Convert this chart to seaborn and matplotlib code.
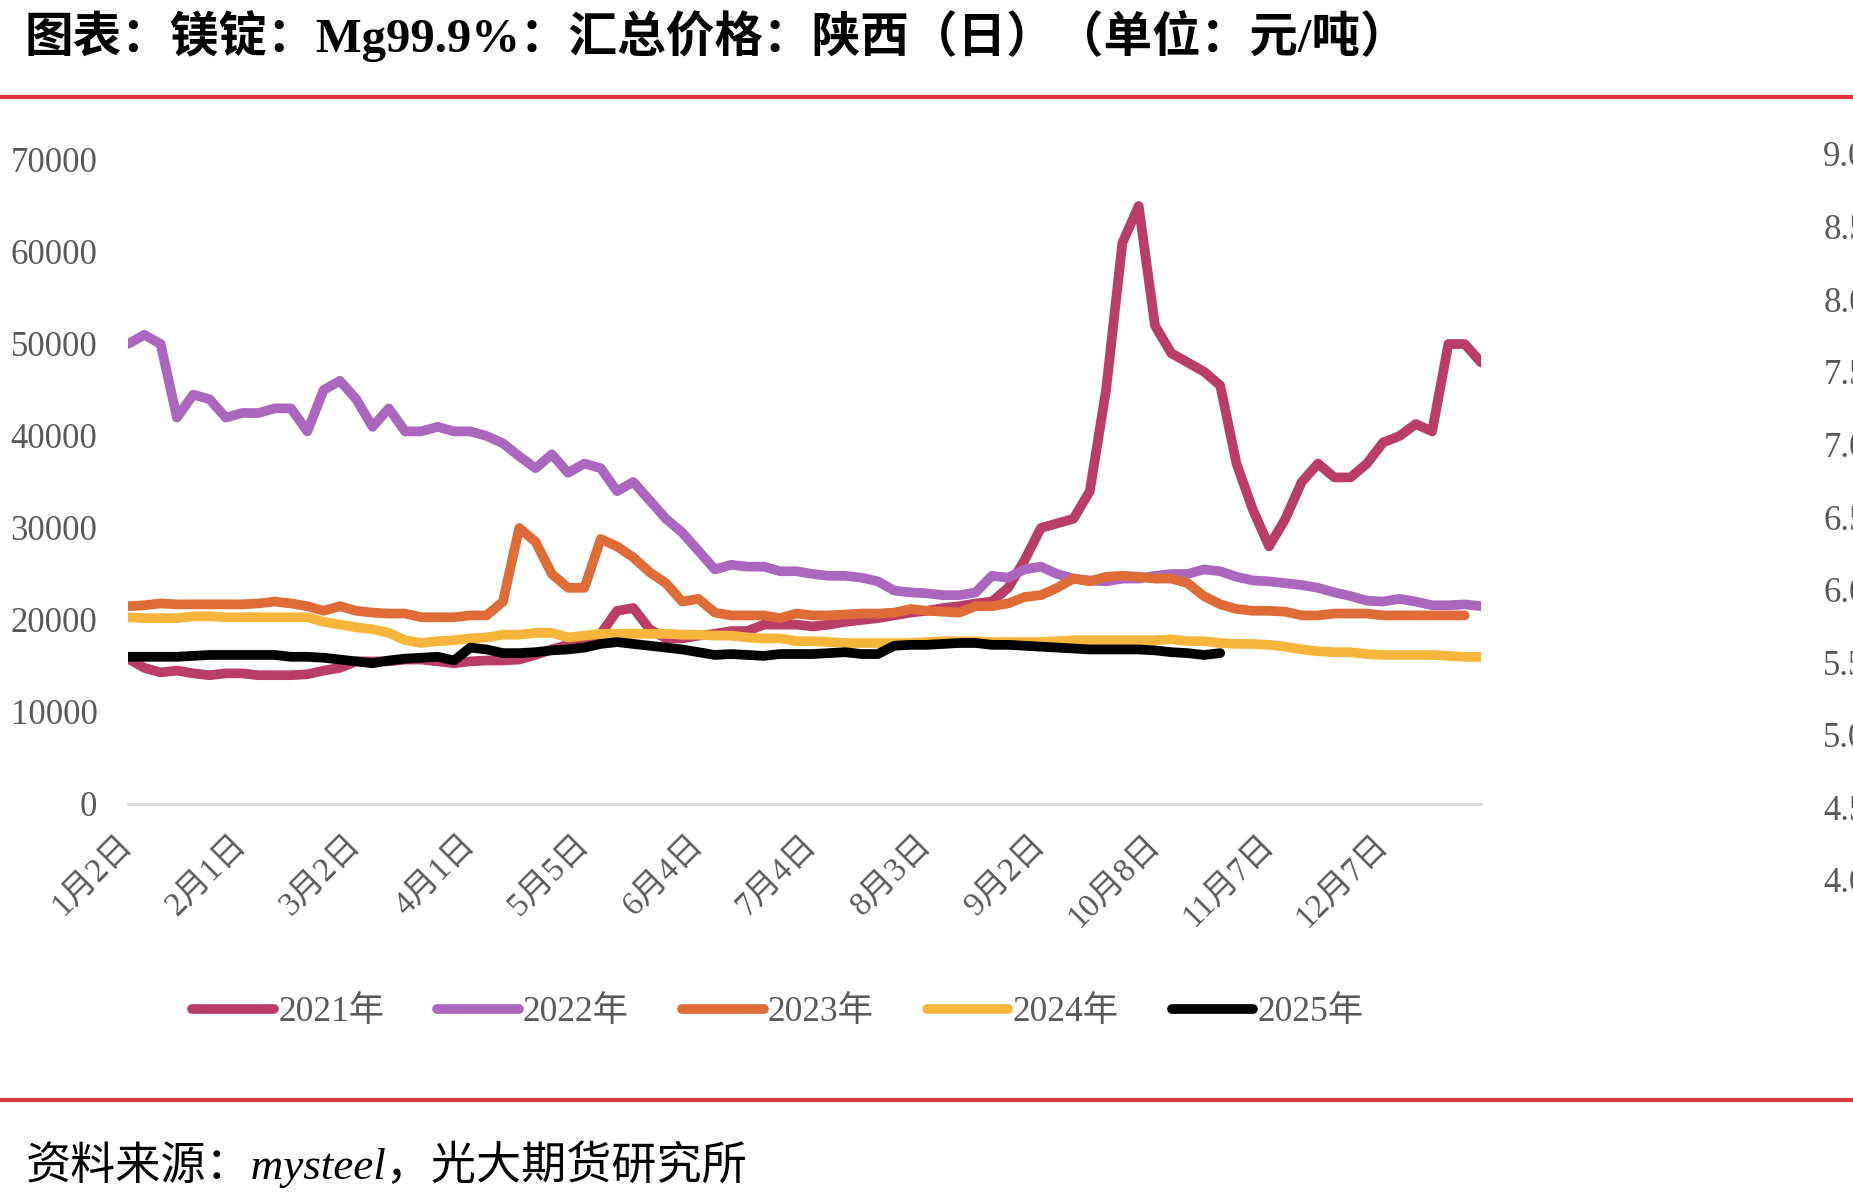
import numpy as np
import pandas as pd
import matplotlib
matplotlib.use("Agg")
import matplotlib.pyplot as plt
import seaborn as sns

# one sample every 3 trading days, a date label every 7 samples
years = ["2021年", "2022年", "2023年", "2024年", "2025年"]
colors = ["#BA3D68", "#AB67BD", "#DF6C36", "#F8B53B", "#000000"]
tick_labels = ["1月2日", "2月1日", "3月2日", "4月1日", "5月5日", "6月4日",
               "7月4日", "8月3日", "9月2日", "10月8日", "11月7日", "12月7日"]
tick_step = 7
right_ticks = [9.0, 8.5, 8.0, 7.5, 7.0, 6.5, 6.0, 5.5, 5.0, 4.5, 4.0]

p2021 = [15800, 14800, 14300, 14500, 14200, 14000, 14200, 14200, 14000, 14000,
         14000, 14100, 14500, 14800, 15500, 15500, 15500, 15700, 15700, 15500,
         15300, 15500, 15600, 15600, 15700, 16200, 16800, 17300, 17500, 18500,
         21000, 21300, 19000, 18000, 18000, 18300, 18500, 18800, 18800, 19500,
         19500, 19500, 19300, 19500, 19800, 20000, 20200, 20500, 20800, 21000,
         21300, 21500, 21800, 22000, 23500, 26500, 30000, 30500, 31000, 34000,
         45000, 61000, 65000, 52000, 49000, 48000, 47000, 45500, 37000, 32000,
         28000, 31000, 35000, 37000, 35500, 35500, 37000, 39300, 40000, 41300,
         40500, 50000, 50000, 48000]
p2022 = [50000, 51000, 50000, 42000, 44500, 44000, 42000, 42500, 42500, 43000,
         43000, 40500, 45000, 46000, 44000, 41000, 43000, 40500, 40500, 41000,
         40500, 40500, 40000, 39200, 37800, 36500, 38000, 36000, 37000, 36500,
         34000, 35000, 33000, 31000, 29500, 27500, 25500, 26000, 25800, 25800,
         25300, 25300, 25000, 24800, 24800, 24600, 24200, 23200, 23000, 22900,
         22700, 22700, 23000, 24800, 24600, 25500, 25800, 25000, 24500, 24300,
         24200, 24500, 24500, 24800, 25000, 25000, 25500, 25300, 24700, 24300,
         24200, 24000, 23800, 23500, 23000, 22600, 22100, 22000, 22300, 22000,
         21600, 21600, 21700, 21500]
p2023 = [21500, 21600, 21800, 21700, 21700, 21700, 21700, 21700, 21800, 22000,
         21800, 21500, 21000, 21500, 21000, 20800, 20700, 20700, 20300, 20300,
         20300, 20500, 20500, 22000, 30000, 28500, 25000, 23500, 23500, 28800,
         28000, 26800, 25200, 24000, 22000, 22300, 20800, 20500, 20500, 20500,
         20200, 20700, 20500, 20500, 20600, 20700, 20700, 20800, 21200, 21000,
         20900, 20800, 21500, 21500, 21800, 22500, 22700, 23500, 24500, 24200,
         24700, 24800, 24700, 24500, 24500, 24000, 22600, 21700, 21200, 21000,
         21000, 20900, 20500, 20500, 20700, 20700, 20700, 20500, 20500, 20500,
         20500, 20500, 20500]
p2024 = [20300, 20200, 20200, 20200, 20400, 20400, 20300, 20300, 20300, 20300,
         20300, 20300, 19800, 19500, 19200, 19000, 18600, 17800, 17500, 17700,
         17800, 18000, 18100, 18400, 18400, 18600, 18600, 18100, 18300, 18500,
         18500, 18500, 18500, 18500, 18400, 18400, 18300, 18300, 18100, 18000,
         18000, 17700, 17700, 17600, 17500, 17500, 17500, 17500, 17500, 17600,
         17700, 17700, 17700, 17600, 17600, 17600, 17600, 17700, 17800, 17800,
         17800, 17800, 17800, 17800, 17900, 17700, 17700, 17500, 17400, 17400,
         17300, 17100, 16800, 16600, 16500, 16500, 16300, 16200, 16200, 16200,
         16200, 16100, 16000, 16000]
p2025 = [16000, 16000, 16000, 16000, 16100, 16200, 16200, 16200, 16200, 16200,
         16000, 16000, 15900, 15700, 15500, 15300, 15600, 15800, 15900, 16000,
         15600, 17000, 16800, 16400, 16400, 16500, 16700, 16800, 17000, 17400,
         17600, 17400, 17200, 17000, 16800, 16500, 16200, 16300, 16200, 16100,
         16300, 16300, 16300, 16400, 16500, 16300, 16300, 17200, 17300, 17300,
         17400, 17500, 17500, 17300, 17300, 17200, 17100, 17000, 16900, 16800,
         16800, 16800, 16800, 16700, 16500, 16400, 16200, 16400]

series = [p2021, p2022, p2023, p2024, p2025]
rows = []
for yr, vals in zip(years, series):
    for i, v in enumerate(vals):
        rows.append({"idx": i, "price": v, "year": yr})
df = pd.DataFrame(rows)

sns.set_theme(style="white")
plt.rcParams["font.family"] = ["Liberation Serif", "Noto Sans CJK SC", "DejaVu Sans"]
gray = "#595959"

W, H = 1853, 1200
fig = plt.figure(figsize=(W / 100, H / 100), dpi=100)
ax = fig.add_axes([128 / W, 1 - 804 / H, (1481 - 128) / W, (804 - 160) / H])

sns.lineplot(data=df, x="idx", y="price", hue="year", hue_order=years,
             palette=dict(zip(years, colors)), linewidth=7, estimator=None,
             sort=False, ax=ax, legend=True)
for ln in ax.get_lines():
    ln.set_solid_capstyle("round")
    ln.set_solid_joinstyle("round")

n_max = max(len(s) for s in series) - 1
ax.set_xlim(0, n_max)
ax.set_ylim(0, 70000)
ax.set_yticks(np.arange(0, 70001, 10000))
ax.set_yticklabels([str(v) for v in range(0, 70001, 10000)])
ax.set_xticks(range(0, tick_step * len(tick_labels), tick_step))
ax.set_xticklabels(tick_labels, rotation=45, ha="right", va="center",
                   rotation_mode="anchor")
ax.tick_params(axis="y", length=0, pad=22, labelsize=25, labelcolor=gray)
ax.tick_params(axis="x", length=0, pad=26, labelsize=24, labelcolor=gray)
ax.set_xlabel("")
ax.set_ylabel("")
for s in ["top", "right", "left"]:
    ax.spines[s].set_visible(False)
ax.spines["bottom"].set_color("#d9d9d9")
ax.spines["bottom"].set_linewidth(2)

# secondary scale on the right, clipped by the figure edge as in the source
axr = fig.add_axes([128 / W, 1 - 880 / H, (1815 - 128) / W, (880 - 154) / H])
axr.patch.set_visible(False)
axr.set_ylim(4.0, 9.0)
axr.set_yticks(right_ticks)
axr.set_yticklabels([f"{v:.1f}" for v in right_ticks])
axr.yaxis.tick_right()
axr.set_xticks([])
axr.tick_params(axis="y", length=0, pad=6, labelsize=25, labelcolor=gray)
for s in axr.spines.values():
    s.set_visible(False)

handles, labels = ax.get_legend_handles_labels()
ax.get_legend().remove()
for h in handles:
    h.set_linewidth(7)
    h.set_solid_capstyle("round")
fig.legend(handles, labels, loc="center", bbox_to_anchor=(778 / W, 1 - 1013 / H),
           ncol=5, frameon=False, fontsize=25.5, handlelength=2.3,
           handletextpad=0.12, columnspacing=1.5, labelcolor=gray)

red = "#D9363E"
fig.add_artist(plt.Line2D([0, 1], [1 - 97 / H, 1 - 97 / H], color=red, lw=3))
fig.add_artist(plt.Line2D([0, 1], [1 - 1100 / H, 1 - 1100 / H], color=red, lw=3))

fig.text(24 / W, 1 - 36 / H, "图表：镁锭：Mg99.9%：汇总价格：陕西（日）（单位：元/吨）",
         fontsize=35, fontweight="bold", va="center", ha="left", color="black")
fig.text(26 / W, 1 - 1164 / H, "资料来源：mysteel，光大期货研究所",
         fontsize=32.5, style="italic", va="center", ha="left", color="black")

fig.savefig("out.png", dpi=100)
